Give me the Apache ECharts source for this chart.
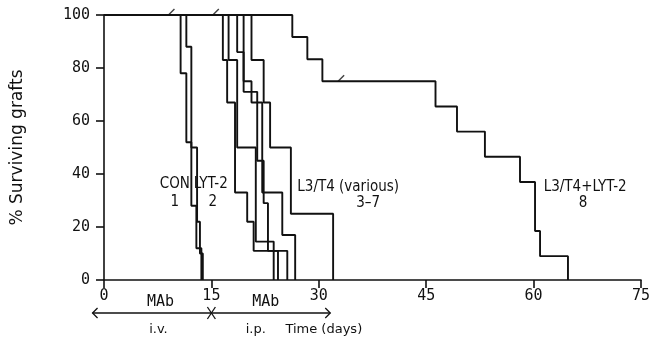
<!DOCTYPE html>
<html>
<head>
<meta charset="utf-8">
<script src="https://cdn.jsdelivr.net/npm/echarts@6/dist/echarts.min.js"></script>
<style>
  html, body { margin: 0; padding: 0; background: #fff; }
  #chart { width: 664px; height: 341px; }
</style>
</head>
<body>
<div id="chart"></div>
<script>
const xTicks = [0, 15, 30, 45, 60, 75];
const yTicks = [0, 20, 40, 60, 80, 100];

// graft survival curves: [day, % surviving after that day's rejection]
const curveCon = [[0, 100], [10.7, 78], [11.5, 52], [12.2, 28], [12.9, 12], [13.6, 0]];
const curveLyt2 = [[0, 100], [11.5, 88], [12.2, 50], [13.0, 22], [13.4, 10], [13.8, 0]];
const curveL3a = [[0, 100], [16.6, 83], [17.2, 67], [18.3, 33], [20.0, 22], [20.9, 11], [25.6, 0]];
const curveL3b = [[0, 100], [17.4, 83], [18.6, 50], [21.2, 14.5], [23.7, 0]];
const curveL3c = [[0, 100], [19.5, 75], [20.6, 67], [22.1, 33], [24.9, 17], [26.7, 0]];
const curveL3d = [[0, 100], [18.6, 86], [19.5, 71], [21.4, 45], [22.3, 29], [22.9, 11], [24.3, 0]];
const curveL3e = [[0, 100], [20.6, 83], [22.3, 67], [23.2, 50], [26.1, 25], [32.0, 0]];
const curveBoth = [[0, 100], [26.3, 91.7], [28.4, 83.3], [30.5, 75], [46.3, 65.5], [49.3, 56],
  [53.2, 46.5], [58.1, 37], [60.2, 18.5], [60.9, 9], [64.8, 0]];
const censored = [[9.0, 100], [15.2, 100], [32.7, 75]];

// text labels anchored in data space: [text, day, pct]
const groupLabels = [
  ['CON', 9.9, 36], ['LYT-2', 14.9, 36], ['1', 9.9, 29.5], ['2', 15.2, 29.5],
  ['L3/T4 (various)', 34.1, 35], ['3\u20137', 36.9, 29], ['L3/T4+LYT-2', 67.2, 35], ['8', 66.9, 29]
];

const chart = echarts.init(document.getElementById('chart'), null, { renderer: 'canvas' });

const stepLine = (name, data) => ({
  name,
  type: 'line',
  step: 'end',
  data,
  showSymbol: false,
  symbol: 'none',
  lineStyle: { color: '#111', width: 1.9 },
  z: 3
});

const monoFont = '"DejaVu Sans Mono", monospace';
const condFont = '"DejaVu Sans Condensed", "Liberation Sans Narrow", sans-serif';

chart.setOption({
  animation: false,
  backgroundColor: '#fff',
  grid: { left: 104, right: 23, top: 15, bottom: 61 },
  xAxis: {
    type: 'value',
    min: 0,
    max: 75,
    interval: 15,
    axisLine: { show: true, lineStyle: { color: '#111', width: 1.6 } },
    axisTick: { show: true, length: 8, lineStyle: { color: '#111', width: 1.6 } },
    axisLabel: { color: '#111', fontFamily: monoFont, fontSize: 15, margin: 9,
      formatter: (v) => (xTicks.includes(v) ? String(v) : '') },
    splitLine: { show: false }
  },
  yAxis: {
    type: 'value',
    min: 0,
    max: 100,
    interval: 20,
    name: '% Surviving grafts',
    nameLocation: 'middle',
    nameGap: 78,
    nameRotate: 90,
    nameTextStyle: { color: '#111', fontFamily: '"DejaVu Sans", sans-serif', fontSize: 17 },
    axisLine: { show: true, lineStyle: { color: '#111', width: 1.6 } },
    axisTick: { show: true, length: 8, lineStyle: { color: '#111', width: 1.6 } },
    axisLabel: { color: '#111', fontFamily: monoFont, fontSize: 15, margin: 14,
      formatter: (v) => (yTicks.includes(v) ? String(v) : '') },
    splitLine: { show: false }
  },
  series: [
    stepLine('CON', curveCon),
    stepLine('LYT-2', curveLyt2),
    stepLine('L3/T4 a', curveL3a),
    stepLine('L3/T4 b', curveL3b),
    stepLine('L3/T4 c', curveL3c),
    stepLine('L3/T4 d', curveL3d),
    stepLine('L3/T4 e', curveL3e),
    stepLine('L3/T4+LYT-2', curveBoth),
    {
      name: 'censored',
      type: 'scatter',
      data: censored,
      symbol: 'path://M0,10L10,0',
      symbolSize: 6,
      symbolOffset: [3, -3],
      itemStyle: { color: 'none', borderColor: '#111', borderWidth: 1.4 },
      z: 4
    }
  ]
});

// annotations placed through the axis scales
const toPx = (d, p) => chart.convertToPixel({ gridIndex: 0 }, [d, p]);
const graphics = groupLabels.map(([text, d, p]) => {
  const [x, y] = toPx(d, p);
  return {
    type: 'text',
    x, y,
    style: { text, fill: '#111', font: '15px ' + condFont, textAlign: 'center', textVerticalAlign: 'middle' }
  };
});

const [ax0, axisY] = toPx(0, 0);
const rowY = axisY + 33;
const [arrL] = toPx(-1.6, 0);
const [arrR] = toPx(31.6, 0);
const [cross] = toPx(15, 0);
const lineStyle = { stroke: '#111', lineWidth: 1.3, fill: null };
graphics.push(
  { type: 'line', shape: { x1: arrL, y1: rowY, x2: arrR, y2: rowY }, style: lineStyle },
  { type: 'polyline', shape: { points: [[arrL + 5, rowY - 5], [arrL, rowY], [arrL + 5, rowY + 5]] }, style: lineStyle },
  { type: 'polyline', shape: { points: [[arrR - 5, rowY - 5], [arrR, rowY], [arrR - 5, rowY + 5]] }, style: lineStyle },
  { type: 'line', shape: { x1: cross - 4, y1: rowY - 6, x2: cross + 4, y2: rowY + 6 }, style: lineStyle },
  { type: 'line', shape: { x1: cross - 4, y1: rowY + 6, x2: cross + 4, y2: rowY - 6 }, style: lineStyle }
);
const bottomText = [
  ['MAb', 7.9, -11, monoFont, 15], ['MAb', 22.6, -11, monoFont, 15],
  ['i.v.', 7.6, 17, '"DejaVu Sans", sans-serif', 13], ['i.p.', 21.2, 17, '"DejaVu Sans", sans-serif', 13],
  ['Time (days)', 30.7, 17, '"DejaVu Sans", sans-serif', 13]
];
bottomText.forEach(([text, d, dy, fam, size]) => {
  const [x] = toPx(d, 0);
  graphics.push({
    type: 'text', x, y: rowY + dy,
    style: { text, fill: '#111', font: size + 'px ' + fam, textAlign: 'center', textVerticalAlign: 'middle' }
  });
});
chart.setOption({ graphic: graphics });
</script>
</body>
</html>
